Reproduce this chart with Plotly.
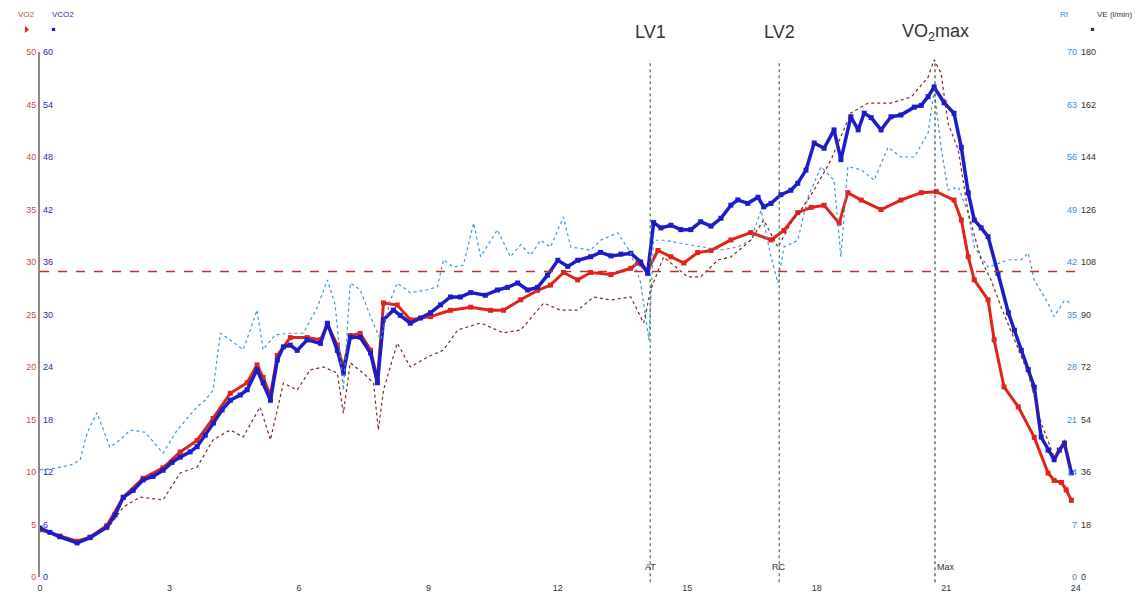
import plotly.graph_objects as go

# ---------------- data (time in minutes) ----------------
vco2_t = [0.00, 0.23, 0.46, 0.86, 1.16, 1.55, 1.74, 1.93, 2.16, 2.39, 2.62, 2.85, 3.06, 3.25, 3.48, 3.64,
          3.83, 4.02, 4.22, 4.41, 4.64, 4.80, 5.03, 5.17, 5.34, 5.50, 5.64, 5.80, 5.96, 6.19, 6.50, 6.66,
          6.89, 7.03, 7.19, 7.42, 7.66, 7.82, 7.96, 8.19, 8.35, 8.58, 8.82, 9.05, 9.28, 9.51, 9.74, 9.98,
          10.32, 10.60, 10.83, 11.07, 11.30, 11.53, 11.76, 12.00, 12.23, 12.46, 12.76, 12.99, 13.23, 13.46,
          13.69, 13.92, 14.08, 14.22, 14.39, 14.62, 14.85, 15.08, 15.31, 15.55, 15.78, 16.01, 16.17, 16.40,
          16.64, 16.77, 16.94, 17.17, 17.40, 17.56, 17.75, 17.94, 18.17, 18.40, 18.56, 18.79, 18.96, 19.10,
          19.26, 19.49, 19.72, 19.95, 20.26, 20.42, 20.58, 20.72, 20.95, 21.18, 21.35, 21.51, 21.65, 21.81,
          21.97, 22.20, 22.44, 22.58, 22.74, 22.90, 23.04, 23.20, 23.36, 23.50, 23.62, 23.74, 23.90]
vco2 = [5.6, 5.1, 4.6, 3.9, 4.5, 5.7, 7.1, 9.1, 9.9, 11.1, 11.5, 12.2, 13.1, 13.7, 14.3, 14.9,
        16.2, 17.6, 19.1, 20.2, 20.8, 21.4, 23.7, 22.2, 20.2, 24.8, 26.3, 26.5, 25.9, 27.1, 26.7, 29.0,
        25.9, 23.3, 27.4, 27.4, 25.6, 22.2, 29.4, 30.5, 29.9, 29.0, 29.6, 30.2, 31.1, 32.0, 32.0, 32.5,
        32.2, 32.8, 33.1, 33.6, 32.8, 33.1, 34.5, 36.2, 35.5, 36.2, 36.6, 37.1, 36.7, 36.9,
        37.0, 36.0, 34.7, 40.5, 39.9, 40.2, 39.7, 39.7, 40.6, 40.1, 41.0, 42.5, 43.1, 42.7,
        43.4, 42.3, 42.7, 43.7, 44.2, 45.0, 46.5, 49.6, 49.0, 51.1, 47.7, 52.6, 51.1, 53.0,
        52.5, 51.1, 52.6, 52.8, 53.7, 53.9, 54.9, 56.0, 54.2, 53.0, 49.1, 43.9, 40.8, 39.9,
        38.9, 34.7, 30.2, 28.2, 25.9, 23.7, 21.7, 16.0, 14.5, 13.4, 14.5, 15.3, 11.9]

vo2_t = [0.00, 0.46, 0.86, 1.16, 1.55, 1.93, 2.39, 2.85, 3.25, 3.64, 4.01, 4.41, 4.80, 5.03, 5.17, 5.34,
         5.50, 5.80, 6.19, 6.50, 6.66, 6.89, 7.03, 7.19, 7.42, 7.66, 7.82, 7.96, 8.28, 8.58, 9.05, 9.51,
         9.98, 10.44, 10.74, 11.14, 11.53, 11.83, 12.13, 12.46, 12.76, 13.23, 13.69, 13.85, 14.08, 14.32,
         14.62, 14.92, 15.24, 15.55, 16.01, 16.47, 16.94, 17.24, 17.56, 17.87, 18.17, 18.52, 18.72, 19.03,
         19.49, 19.95, 20.42, 20.77, 21.18, 21.35, 21.51, 21.65, 21.97, 22.11, 22.34, 22.67, 23.04, 23.36,
         23.50, 23.67, 23.78, 23.90]
vo2 = [4.5, 3.9, 3.4, 3.8, 4.9, 7.6, 9.4, 10.4, 11.9, 13.0, 15.1, 17.5, 18.5, 20.2, 19.0, 17.3,
       21.1, 22.8, 22.8, 22.6, 24.0, 22.1, 19.9, 23.0, 23.2, 21.6, 18.8, 26.1, 25.9, 24.5, 24.8, 25.4,
       25.7, 25.4, 25.4, 26.4, 27.3, 27.8, 29.0, 28.3, 29.0, 28.8, 29.4, 29.9, 29.2, 31.1,
       30.5, 29.9, 30.9, 31.1, 32.1, 32.8, 32.1, 33.0, 34.7, 35.2, 35.4, 33.7, 36.6, 35.9,
       35.0, 35.9, 36.6, 36.7, 35.9, 34.0, 30.5, 28.3, 26.4, 22.6, 18.1, 16.2, 13.3, 9.9,
       9.2, 9.0, 8.3, 7.3]

rf_t = [0.00, 0.35, 0.70, 0.93, 1.09, 1.32, 1.62, 1.86, 2.09, 2.44, 2.85, 3.18, 3.64, 3.83, 4.01, 4.18,
        4.41, 4.71, 4.87, 5.03, 5.17, 5.45, 5.80, 6.10, 6.43, 6.66, 6.84, 7.03, 7.19, 7.42, 7.66, 7.89,
        8.12, 8.28, 8.58, 8.98, 9.21, 9.35, 9.58, 9.81, 10.05, 10.21, 10.60, 10.90, 11.14, 11.37, 11.60,
        11.83, 12.13, 12.30, 12.76, 12.99, 13.39, 13.69, 13.92, 14.11, 14.22, 14.45, 14.85, 15.31, 15.78,
        16.17, 16.47, 16.71, 16.94, 17.10, 17.24, 17.56, 17.80, 18.10, 18.40, 18.56, 18.72, 19.03, 19.33,
        19.65, 19.95, 20.26, 20.58, 20.72, 20.88, 21.04, 21.28, 21.51, 21.65, 21.97, 22.44, 22.74, 22.90,
        23.04, 23.36, 23.50, 23.74, 23.90]
rf = [14.3, 14.5, 14.9, 15.6, 19.2, 21.9, 17.3, 18.3, 19.6, 19.3, 16.5, 19.6, 22.7, 23.6, 24.9, 32.5,
      31.6, 30.3, 32.9, 35.6, 30.3, 32.3, 32.5, 32.5, 36.0, 39.6, 36.3, 24.9, 39.2, 38.3, 34.7, 31.6,
      36.9, 39.2, 37.9, 38.3, 38.7, 42.3, 41.3, 41.6, 47.2, 42.7, 46.3, 42.7, 44.3, 42.9, 44.9,
      44.0, 48.0, 44.0, 43.6, 44.9, 45.9, 43.2, 39.2, 31.6, 44.9, 44.9, 44.5, 44.1, 43.6,
      44.0, 44.9, 48.9, 42.7, 39.2, 44.0, 44.9, 50.7, 54.7, 52.9, 42.7, 54.7, 54.3, 52.9,
      57.3, 56.0, 56.0, 59.2, 64.9, 57.3, 51.6, 52.0, 48.5, 44.0, 41.3, 42.3, 42.3, 43.2,
      39.6, 36.5, 34.7, 36.9, 36.5]

ve_t = [1.55, 1.93, 2.32, 2.85, 3.25, 3.64, 4.01, 4.41, 4.71, 5.10, 5.34, 5.64, 5.96, 6.26, 6.57, 6.89,
        7.03, 7.19, 7.49, 7.73, 7.84, 7.96, 8.28, 8.58, 8.98, 9.35, 9.68, 10.21, 10.74, 11.14, 11.67,
        12.06, 12.46, 12.83, 13.23, 13.69, 13.99, 14.15, 14.45, 15.01, 15.31, 15.71, 16.01, 16.47, 16.77,
        17.10, 17.40, 17.63, 17.94, 18.33, 18.79, 19.19, 19.72, 20.19, 20.58, 20.72, 20.88, 21.04, 21.28,
        21.51, 21.81, 22.04, 22.27, 22.58, 22.90, 23.20, 23.50, 23.74, 23.90]
ve = [16.1, 24.0, 27.4, 26.4, 35.7, 37.7, 47.0, 50.4, 48.0, 58.3, 47.0, 66.5, 64.1, 71.0, 72.0, 69.9,
      56.2, 73.4, 69.9, 66.5, 50.4, 64.1, 80.2, 72.0, 75.4, 77.8, 84.7, 87.1, 83.7, 84.7, 93.9,
      91.5, 91.5, 96.0, 95.0, 96.0, 87.1, 98.4, 109.7, 102.9, 102.9, 108.7, 109.7, 115.5, 122.4,
      113.1, 121.4, 125.8, 132.7, 143.0, 159.1, 162.5, 162.5, 164.6, 171.4, 177.3, 172.8, 155.7, 146.4,
      124.8, 108.7, 101.8, 92.6, 81.3, 69.9, 52.8, 41.1, 47.0, 37.7]

x_ticks = [0, 3, 6, 9, 12, 15, 18, 21, 24]
vo2_ticks = [0, 5, 10, 15, 20, 25, 30, 35, 40, 45, 50]
vco2_ticks = [0, 6, 12, 18, 24, 30, 36, 42, 48, 54, 60]
rf_ticks = [0, 7, 14, 21, 28, 35, 42, 49, 56, 63, 70]
ve_ticks = [0, 18, 36, 54, 72, 90, 108, 126, 144, 162, 180]

thresholds = {"LV1": 14.14, "LV2": 17.13, "VO<sub>2</sub>max": 20.74}
threshold_codes = ["AT", "RC", "Max"]
ref_vo2 = 29.1

# ---------------- figure ----------------
RED = "#e0231c"
BLUE = "#1d1dc8"
LBLUE = "#3c98d6"
MAROON = "#7a2a22"

fig = go.Figure()
fig.add_trace(go.Scatter(x=rf_t, y=rf, yaxis="y3", mode="lines",
                         line=dict(color=LBLUE, width=1.2, dash="dot"), hoverinfo="skip"))
fig.add_trace(go.Scatter(x=ve_t, y=ve, yaxis="y4", mode="lines",
                         line=dict(color=MAROON, width=1.2, dash="dot"), hoverinfo="skip"))
fig.add_trace(go.Scatter(x=vo2_t, y=vo2, yaxis="y", mode="lines+markers",
                         line=dict(color=RED, width=3),
                         marker=dict(color=RED, size=5, symbol="square"), hoverinfo="skip"))
fig.add_trace(go.Scatter(x=vco2_t, y=vco2, yaxis="y2", mode="lines+markers",
                         line=dict(color=BLUE, width=3.5),
                         marker=dict(color=BLUE, size=5, symbol="square"), hoverinfo="skip"))

fig.update_layout(
    width=1136, height=594,
    margin=dict(l=40, r=56, t=52, b=17),
    paper_bgcolor="white", plot_bgcolor="white",
    showlegend=False,
    xaxis=dict(range=[0, 24.1], tickvals=x_ticks, ticktext=[str(v) for v in x_ticks],
               showgrid=False, zeroline=False, showline=False, ticks="",
               ticklabeloverflow="allow", ticklabelstandoff=4,
               tickfont=dict(family="Arial", size=9, color="#333"), automargin=False),
    yaxis=dict(range=[0, 50], tickvals=vo2_ticks, showgrid=False, zeroline=False,
               showline=True, linecolor="#8a8a8a", linewidth=2, ticks="",
               ticklabeloverflow="allow",
               tickfont=dict(family="Arial", size=9, color="#c84a4a"), automargin=False),
    yaxis2=dict(range=[0, 60], tickvals=vco2_ticks, overlaying="y", side="left",
                ticklabelposition="inside", ticklabeloverflow="allow",
                showgrid=False, zeroline=False, showline=False,
                ticks="", tickfont=dict(family="Arial", size=9, color="#2a2a9a"), automargin=False),
    yaxis3=dict(range=[0, 70], tickvals=rf_ticks, overlaying="y", side="right",
                ticklabelposition="inside", ticklabeloverflow="allow",
                showgrid=False, zeroline=False, showline=False,
                ticks="", tickfont=dict(family="Arial", size=9, color="#3c8cc8"), automargin=False),
    yaxis4=dict(range=[0, 180], tickvals=ve_ticks, overlaying="y", side="right",
                ticklabeloverflow="allow",
                showgrid=False, zeroline=False, showline=False,
                ticks="", tickfont=dict(family="Arial", size=9, color="#333"), automargin=False),
)

# reference dashed line
fig.add_shape(type="line", xref="paper", x0=0, x1=1, yref="y", y0=ref_vo2, y1=ref_vo2,
              line=dict(color="#c0302a", width=1.6, dash="dash"))

# threshold lines and labels
line_colors = ["#3f7a3f", "#3f7a3f", "#444444"]
for (name, tx), code, lc in zip(thresholds.items(), threshold_codes, line_colors):
    fig.add_shape(type="line", xref="x", x0=tx, x1=tx, yref="paper", y0=-0.01, y1=0.985,
                  line=dict(color=lc, width=1.2, dash="dot"))
    fig.add_annotation(x=tx, xref="x", y=1.038, yref="paper", text=name, showarrow=False,
                       font=dict(family="Arial", size=18, color="#333"),
                       xanchor="center", yanchor="middle")
    fig.add_annotation(x=tx, xref="x", y=0.019, yref="paper", text=code, showarrow=False,
                       font=dict(family="Arial", size=9, color="#333"),
                       xanchor="left" if code == "Max" else "center", yanchor="middle")

# axis headers
headers = [
    (-0.013, "VO2", "#c84a4a", "center"),
    (0.022, "VCO2", "#2a2a9a", "center"),
    (0.985, "Rf", "#3c8cc8", "center"),
    (1.052, "VE (l/min)", "#333", "right"),
]
for xp, txt, col, anc in headers:
    fig.add_annotation(x=xp, xref="paper", y=1.071, yref="paper", text=txt, showarrow=False,
                       font=dict(family="Arial", size=8, color=col), xanchor=anc, yanchor="middle")

# small series symbols under the headers
fig.add_shape(type="path", xref="paper", yref="paper",
              path="M -0.0145 1.036 L -0.0145 1.050 L -0.0105 1.043 Z",
              fillcolor=RED, line=dict(width=0))
for xc, col in [(0.013, BLUE), (1.012, "#333")]:
    fig.add_shape(type="rect", xref="paper", yref="paper",
                  x0=xc - 0.0016, x1=xc + 0.0016, y0=1.040, y1=1.046,
                  fillcolor=col, line=dict(width=0))

fig.write_html("out.html")
